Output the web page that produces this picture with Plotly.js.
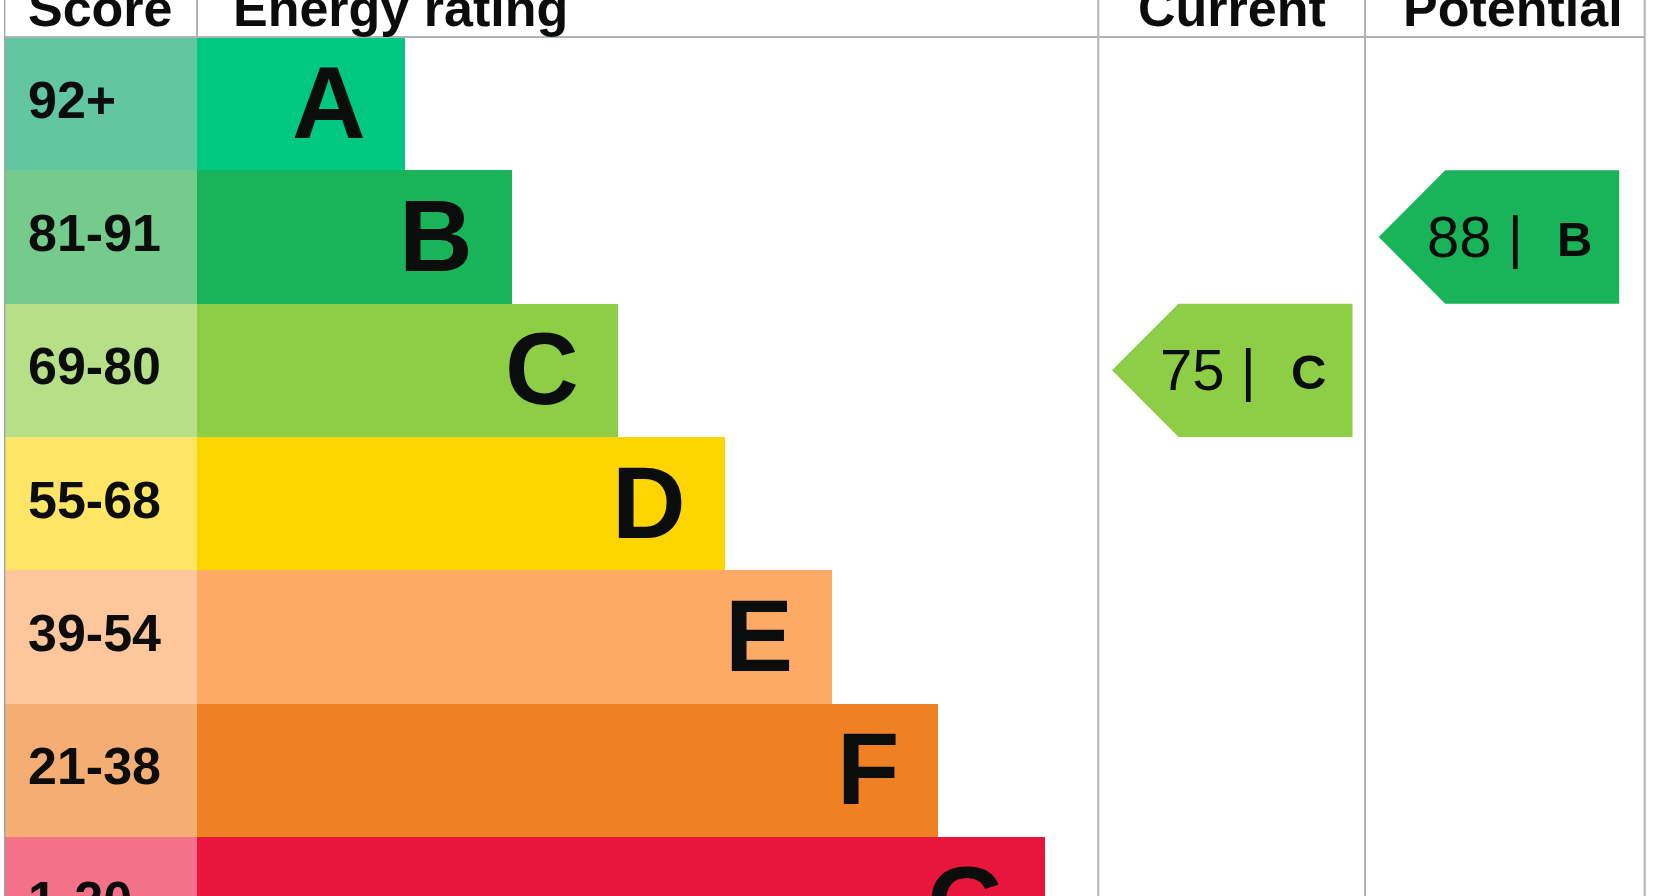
<!DOCTYPE html>
<html><head><meta charset="utf-8">
<script src="https://cdn.plot.ly/plotly-3.0.1.min.js"></script>
<style>html,body{margin:0;padding:0;background:#fff;overflow:hidden}#chart{width:1655px;height:896px}</style>
</head><body><div id="chart"></div>
<script>
// ---- data ----
const bands = ['A','B','C','D','E','F','G'];
const scoreRanges = ['92+','81-91','69-80','55-68','39-54','21-38','1-20'];
const bandLength = [2,3,4,5,6,7,8];
const bandColors = ['#00c781','#19b459','#8dce46','#ffd500','#fcaa65','#ef8023','#e9153b'];
const scoreColors = ['#62c6a2','#74cb8b','#b6df88','#ffe566','#fec79b','#f4ad73','#f37189'];
const headers = ['Score','Energy rating','Current','Potential'];
const currentScore = 75;
const currentBand = 'C';
const potentialScore = 88;
const potentialBand = 'B';

// ---- geometry (layout only) ----
const W = 1655, H = 896;
const UNIT_PX = 106.67, ORIGIN_PX = 191.67;
const ROW_PX = 133.33, TOP_PX = 37;
const px2x = p => (p - ORIGIN_PX) / UNIT_PX;
const dx = p => p / UNIT_PX;
const COL = {left: 4.7, scoreRight: 197, current: 1098.3, potential: 1365, right: 1644.7};
const FONT = 'Liberation Sans, Arial, Helvetica, sans-serif';
const INK = '#0b0c0c';
const GRID = '#b1b4b6';
const rows = bands.map((b, i) => i);
const yTop = -0.5 - TOP_PX / ROW_PX;
const yBottom = yTop + H / ROW_PX;
const HALF_ROW = ROW_PX / 2;

const traces = [];
// band bars
traces.push({
  type: 'bar', orientation: 'h', y: rows, x: bandLength, base: 0, width: 1,
  marker: {color: bandColors, line: {width: 0}}, hoverinfo: 'skip', showlegend: false
});
// score column bars
const scoreW = px2x(COL.scoreRight) - px2x(COL.left + 0.3);
traces.push({
  type: 'bar', orientation: 'h', y: rows, x: bands.map(() => scoreW), base: px2x(COL.left + 0.3), width: 1,
  marker: {color: scoreColors, line: {width: 0}}, hoverinfo: 'skip', showlegend: false
});

function arrow(colLeftPx, band) {
  const r = bands.indexOf(band);
  const tip = px2x(colLeftPx + 13.7), notch = tip + dx(66.5), right = tip + dx(240.5);
  return {
    type: 'scatter', mode: 'lines',
    x: [tip, notch, right, right, notch, tip],
    y: [r, r - 0.5, r - 0.5, r + 0.5, r + 0.5, r],
    fill: 'toself', fillcolor: bandColors[r], line: {width: 0, color: bandColors[r]},
    hoverinfo: 'skip', showlegend: false
  };
}
traces.push(arrow(COL.current, currentBand));
traces.push(arrow(COL.potential, potentialBand));

const ann = [];
// score labels (anchored at the row's top edge so the partly visible last row still shows)
scoreRanges.forEach((s, i) => ann.push({
  x: px2x(26), y: i - 0.5, xref: 'x', yref: 'y', xanchor: 'left', yanchor: 'middle', yshift: -HALF_ROW + 4,
  text: '<b>' + s + '</b>', showarrow: false, font: {family: FONT, size: 52, color: INK}
}));
// band letters
bands.forEach((b, i) => ann.push({
  x: bandLength[i], y: i - 0.5, xref: 'x', yref: 'y', xanchor: 'right', yanchor: 'middle', xshift: -37, yshift: -HALF_ROW + 1,
  text: '<b>' + b + '</b>', showarrow: false, font: {family: FONT, size: 102, color: INK}
}));
// headers
const hdr = (text, x, xanchor) => ({
  x: x, y: -0.5, xref: 'x', yref: 'y', xanchor: xanchor, yanchor: 'middle', yshift: 29,
  text: '<b>' + text + '</b>', showarrow: false, font: {family: FONT, size: 52, color: INK}
});
ann.push(hdr(headers[0], px2x(26), 'left'));
ann.push(hdr(headers[1], px2x(231), 'left'));
ann.push(hdr(headers[2], px2x((COL.current + COL.potential) / 2), 'center'));
ann.push(hdr(headers[3], px2x((COL.potential + COL.right) / 2 + 8), 'center'));
// arrow labels
function arrowText(colLeftPx, score, band) {
  const r = bands.indexOf(band);
  const tip = px2x(colLeftPx + 13.7), right = tip + dx(240.5);
  ann.push({x: tip, y: r, xref: 'x', yref: 'y', xanchor: 'left', yanchor: 'middle', xshift: 46, yshift: 1,
    text: score + ' |', showarrow: false, font: {family: FONT, size: 58, color: INK}});
  ann.push({x: right, y: r, xref: 'x', yref: 'y', xanchor: 'right', yanchor: 'middle', xshift: -25, yshift: -2,
    text: '<b>' + band + '</b>', showarrow: false, font: {family: FONT, size: 49, color: INK}});
}
arrowText(COL.current, currentScore, currentBand);
arrowText(COL.potential, potentialScore, potentialBand);

// grid lines
const shapes = [
  {type: 'line', xref: 'x', yref: 'y', x0: px2x(COL.left), x1: px2x(COL.right), y0: -0.5, y1: -0.5, line: {color: GRID, width: 2}, layer: 'above'},
  {type: 'line', xref: 'x', yref: 'paper', x0: px2x(COL.left), x1: px2x(COL.left), y0: 0, y1: 1, line: {color: '#9a9a9a', width: 1.2}, layer: 'above'},
  {type: 'line', xref: 'x', yref: 'paper', x0: px2x(COL.current), x1: px2x(COL.current), y0: 0, y1: 1, line: {color: GRID, width: 2}, layer: 'above'},
  {type: 'line', xref: 'x', yref: 'paper', x0: px2x(COL.potential), x1: px2x(COL.potential), y0: 0, y1: 1, line: {color: GRID, width: 2}, layer: 'above'},
  {type: 'line', xref: 'x', yref: 'paper', x0: px2x(COL.right), x1: px2x(COL.right), y0: 0, y1: 1, line: {color: GRID, width: 2}, layer: 'above'},
  {type: 'line', xref: 'x', yref: 'y', x0: px2x(COL.scoreRight), x1: px2x(COL.scoreRight), y0: yTop, y1: -0.5, line: {color: GRID, width: 2}, layer: 'above'}
];

const layout = {
  width: W, height: H, margin: {l: 0, r: 0, t: 0, b: 0, pad: 0},
  paper_bgcolor: '#ffffff', plot_bgcolor: '#ffffff',
  barmode: 'overlay', bargap: 0, showlegend: false,
  xaxis: {range: [px2x(0), px2x(W)], showgrid: false, zeroline: false, showticklabels: false, ticks: '', showline: false, fixedrange: true},
  yaxis: {range: [yBottom, yTop], showgrid: false, zeroline: false, showticklabels: false, ticks: '', showline: false, fixedrange: true},
  shapes: shapes, annotations: ann, hovermode: false
};
Plotly.newPlot('chart', traces, layout, {displayModeBar: false, staticPlot: true});
</script></body></html>
